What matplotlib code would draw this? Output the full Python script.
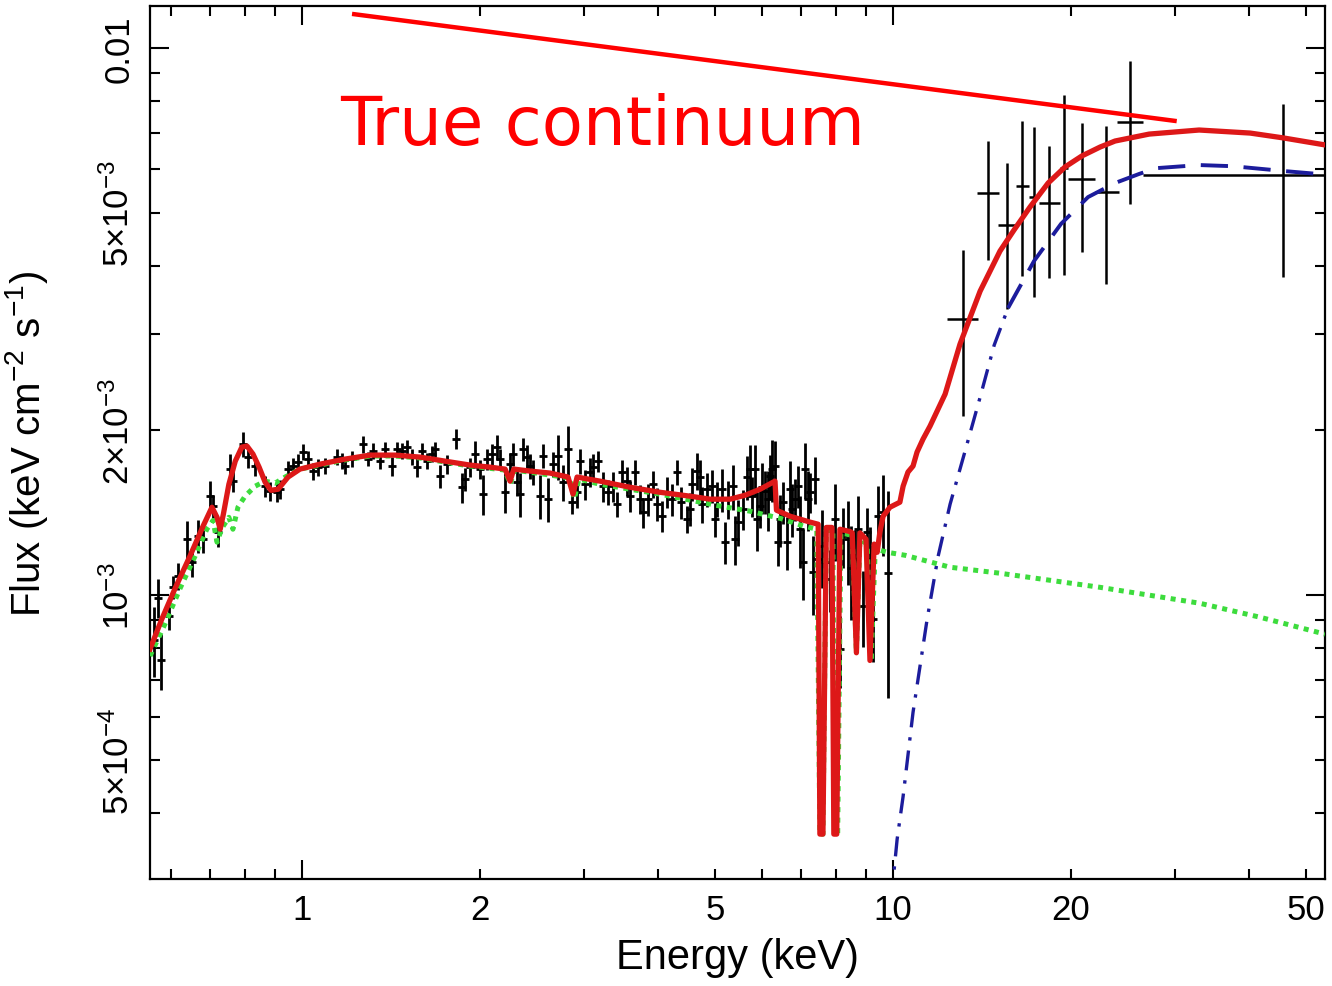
import numpy as np
import matplotlib
matplotlib.use("Agg")
import matplotlib.pyplot as plt
from matplotlib.ticker import FixedLocator, FixedFormatter, FuncFormatter

plt.rcParams["font.family"] = ["Liberation Sans", "DejaVu Sans"]
plt.rcParams["mathtext.fontset"] = "custom"
plt.rcParams["mathtext.rm"] = "Liberation Sans"
plt.rcParams["mathtext.it"] = "Liberation Sans:italic"
plt.rcParams["mathtext.bf"] = "Liberation Sans:bold"

# ---------------- soft X-ray spectrum (flux in 1e-3 keV cm^-2 s^-1) ----------------
soft_E = [0.562, 0.570, 0.578, 0.596, 0.605, 0.617, 0.639, 0.652, 0.667, 0.680,
          0.699, 0.707, 0.721, 0.756, 0.764, 0.795, 0.810, 0.833, 0.866, 0.883,
          0.907, 0.918, 0.947, 0.966, 0.984, 1.004, 1.024, 1.044, 1.064, 1.094,
          1.146, 1.169, 1.182, 1.215, 1.268, 1.293, 1.319, 1.355, 1.382, 1.420,
          1.448, 1.476, 1.505, 1.535, 1.565, 1.596, 1.627, 1.660, 1.679, 1.712,
          1.759, 1.822, 1.865, 1.887, 1.924, 1.962, 2.001, 2.024, 2.056, 2.096,
          2.138, 2.163, 2.206, 2.249, 2.275, 2.311, 2.338, 2.366, 2.403, 2.431,
          2.460, 2.528, 2.558, 2.608, 2.659, 2.712, 2.765, 2.819, 2.863, 2.920,
          2.954, 3.012, 3.071, 3.107, 3.168, 3.230, 3.294, 3.359, 3.412, 3.479,
          3.548, 3.589, 3.660, 3.732, 3.776, 3.850, 3.926, 3.988, 4.066, 4.147,
          4.228, 4.311, 4.379, 4.482, 4.53, 4.571, 4.661, 4.71, 4.753, 4.846,
          4.941, 5.00, 5.038, 5.137, 5.197, 5.258, 5.362, 5.40, 5.467, 5.575,
          5.662, 5.73, 5.773, 5.841, 5.88, 5.957, 6.00, 6.073, 6.14, 6.193,
          6.24, 6.314, 6.389, 6.44, 6.515, 6.617, 6.70, 6.747, 6.826, 6.906,
          6.96, 7.042, 7.097, 7.18, 7.237, 7.321, 7.379, 7.465, 7.58, 7.671,
          7.823, 7.97, 8.134, 8.230, 8.392, 8.50, 8.624, 8.73, 8.898, 9.036,
          9.14, 9.251, 9.432, 9.618, 9.807]
soft_F = [0.83, 0.99, 0.76, 0.915, 1.034, 1.083, 1.266, 1.149, 1.282, 1.266,
          1.517, 1.455, 1.304, 1.700, 1.616, 1.888, 1.788, 1.722, 1.582, 1.549,
          1.542, 1.562, 1.700, 1.722, 1.751, 1.826, 1.773, 1.686, 1.714, 1.722,
          1.788, 1.758, 1.722, 1.773, 1.888, 1.773, 1.834, 1.758, 1.849, 1.722,
          1.849, 1.834, 1.865, 1.788, 1.714, 1.834, 1.758, 1.811, 1.849, 1.651,
          1.736, 1.929, 1.575, 1.630, 1.714, 1.811, 1.700, 1.530, 1.773, 1.811,
          1.865, 1.773, 1.542, 1.736, 1.811, 1.609, 1.530, 1.849, 1.788, 1.722,
          1.679, 1.517, 1.796, 1.498, 1.736, 1.796, 1.609, 1.849, 1.479, 1.542,
          1.758, 1.595, 1.679, 1.714, 1.758, 1.582, 1.542, 1.582, 1.467, 1.679,
          1.616, 1.517, 1.679, 1.498, 1.418, 1.498, 1.595, 1.467, 1.394, 1.542,
          1.498, 1.679, 1.479, 1.377, 1.436, 1.595, 1.686, 1.644, 1.467, 1.562,
          1.582, 1.377, 1.498, 1.562, 1.250, 1.498, 1.582, 1.266, 1.360, 1.436,
          1.644, 1.700, 1.517, 1.700, 1.377, 1.455, 1.575, 1.549, 1.498, 1.651,
          1.700, 1.722, 1.250, 1.377, 1.479, 1.250, 1.562, 1.436, 1.498, 1.582,
          1.320, 1.149, 1.700, 1.498, 1.542, 1.102, 1.630, 1.164, 1.230, 1.149,
          1.070, 1.377, 0.797, 1.282, 1.266, 1.120, 1.164, 1.320, 0.955, 1.304,
          1.164, 0.904, 1.394, 1.418, 1.100]
soft_Ferr = [0.12, 0.08, 0.09, 0.05, 0.05, 0.06, 0.10, 0.07, 0.09, 0.07,
             0.10, 0.07, 0.08, 0.11, 0.07, 0.10, 0.08, 0.07, 0.07, 0.06,
             0.06, 0.06, 0.06, 0.06, 0.06, 0.06, 0.06, 0.06, 0.06, 0.06,
             0.06, 0.06, 0.06, 0.06, 0.07, 0.05, 0.06, 0.06, 0.06, 0.07,
             0.06, 0.06, 0.06, 0.06, 0.07, 0.06, 0.06, 0.06, 0.06, 0.08,
             0.07, 0.08, 0.10, 0.08, 0.07, 0.10, 0.07, 0.13, 0.08, 0.08,
             0.10, 0.08, 0.13, 0.08, 0.09, 0.09, 0.14, 0.09, 0.09, 0.09,
             0.09, 0.14, 0.09, 0.14, 0.09, 0.17, 0.12, 0.19, 0.07, 0.10,
             0.09, 0.10, 0.10, 0.10, 0.08, 0.10, 0.08, 0.10, 0.08, 0.09,
             0.10, 0.10, 0.09, 0.09, 0.09, 0.10, 0.09, 0.10, 0.09, 0.10,
             0.10, 0.09, 0.10, 0.08, 0.10, 0.11, 0.13, 0.12, 0.11, 0.11,
             0.11, 0.10, 0.11, 0.14, 0.11, 0.12, 0.15, 0.13, 0.13, 0.12,
             0.15, 0.18, 0.13, 0.18, 0.17, 0.13, 0.17, 0.14, 0.19, 0.15,
             0.22, 0.19, 0.12, 0.15, 0.13, 0.14, 0.20, 0.16, 0.13, 0.14,
             0.20, 0.17, 0.20, 0.19, 0.13, 0.18, 0.16, 0.13, 0.20, 0.13,
             0.14, 0.22, 0.12, 0.16, 0.22, 0.22, 0.15, 0.20, 0.15, 0.14,
             0.17, 0.15, 0.19, 0.24, 0.45]
soft_bin_frac = 0.016

# ---------------- hard X-ray spectrum ----------------
hard_E = [13.13, 14.48, 15.59, 16.53, 17.32, 18.37, 19.47, 20.88, 22.93, 25.18, 45.7]
hard_Elo = [12.34, 13.87, 15.07, 16.15, 16.99, 17.66, 19.17, 19.78, 21.97, 23.93, 26.49]
hard_Ehi = [13.93, 15.12, 16.15, 16.99, 17.67, 19.17, 19.78, 21.97, 24.12, 26.49, 54.9]
hard_F = [3.20, 5.43, 4.75, 5.59, 5.34, 5.21, 6.03, 5.76, 5.45, 7.32, 5.86]
hard_Ferr = [1.07, 1.33, 1.41, 1.76, 1.83, 1.41, 2.18, 1.53, 1.74, 2.13, 2.04]

# ---------------- total model (red) ----------------
total_E = [0.553, 0.579, 0.610, 0.646, 0.680, 0.704, 0.718, 0.727, 0.736, 0.752,
           0.771, 0.791, 0.807, 0.826, 0.846, 0.866, 0.886, 0.911, 0.947, 0.992,
           1.073, 1.182, 1.304, 1.437, 1.584, 1.745, 1.924, 2.08, 2.206, 2.249,
           2.282, 2.431, 2.627, 2.819, 2.874, 2.92, 3.193, 3.589, 4.034, 4.535,
           4.903, 5.30, 5.62, 5.957, 6.314, 6.35, 6.70, 7.24, 7.47, 7.52,
           7.61, 7.71, 7.88, 7.94, 8.03, 8.13, 8.46, 8.53, 8.67, 8.79,
           9.00, 9.14, 9.29, 9.40, 9.50, 9.62, 9.88, 10.27, 10.40, 10.60,
           10.81, 10.98, 11.24, 11.55, 12.25, 12.98, 14.04, 15.17, 16.02, 17.05,
           18.30, 19.54, 20.88, 22.40, 23.75, 27.12, 32.95, 40.2, 45.7, 53.8]
total_F = [0.797, 0.904, 1.03, 1.178, 1.337, 1.448, 1.388, 1.320, 1.406, 1.595,
           1.758, 1.865, 1.873, 1.811, 1.714, 1.609, 1.555, 1.562, 1.644, 1.700,
           1.736, 1.773, 1.803, 1.803, 1.788, 1.758, 1.729, 1.714, 1.700, 1.616,
           1.700, 1.686, 1.672, 1.644, 1.530, 1.644, 1.616, 1.575, 1.542, 1.517,
           1.498, 1.498, 1.523, 1.562, 1.616, 1.430, 1.394, 1.360, 1.348, 0.366,
           0.366, 1.330, 1.330, 0.366, 0.366, 1.320, 1.307, 1.300, 0.785, 1.300,
           1.266, 0.760, 1.240, 1.198, 1.304, 1.394, 1.448, 1.479, 1.582, 1.679,
           1.722, 1.826, 1.929, 2.037, 2.331, 2.876, 3.595, 4.255, 4.648, 5.12,
           5.665, 6.06, 6.35, 6.59, 6.76, 6.96, 7.08, 6.99, 6.85, 6.65]

# ---------------- absorbed power-law component (green) ----------------
pl_E = [0.553, 0.586, 0.622, 0.659, 0.690, 0.707, 0.718, 0.732, 0.752, 0.764,
        0.779, 0.801, 0.833, 0.866, 0.900, 0.936, 0.992, 1.073, 1.182, 1.304,
        1.437, 1.584, 1.745, 1.924, 2.206, 2.249, 2.29, 2.627, 2.84, 2.89,
        2.94, 3.193, 3.589, 4.034, 4.535, 5.10, 5.73, 6.44, 7.04, 7.43,
        7.52, 7.61, 7.71, 7.91, 7.97, 8.06, 8.16, 8.53, 8.67, 8.79,
        9.04, 9.18, 9.33, 9.78, 10.48, 12.49, 15.16, 22.37, 33.0, 41.7, 53.8]
pl_F = [0.774, 0.885, 1.03, 1.178, 1.320, 1.37, 1.25, 1.326, 1.388, 1.320,
        1.448, 1.517, 1.582, 1.616, 1.602, 1.644, 1.700, 1.729, 1.766, 1.796,
        1.796, 1.781, 1.751, 1.722, 1.693, 1.595, 1.693, 1.658, 1.637, 1.498,
        1.63, 1.595, 1.562, 1.530, 1.492, 1.455, 1.424, 1.382, 1.339, 1.320,
        0.366, 0.366, 1.313, 1.313, 0.366, 0.366, 1.300, 1.286, 0.785, 1.266,
        1.240, 0.757, 1.215, 1.198, 1.183, 1.125, 1.097, 1.034, 0.967, 0.912, 0.849]

# ---------------- hard excess component (blue) ----------------
hump_E = [9.93, 10.16, 10.40, 10.81, 11.42, 11.92, 12.49, 13.24, 14.04, 14.83,
          15.65, 17.32, 19.24, 21.38, 23.75, 26.08, 27.86, 32.95, 37.6, 45.7, 54.9]
hump_F = [0.278, 0.358, 0.429, 0.611, 0.904, 1.178, 1.467, 1.834, 2.301, 2.864,
          3.347, 4.08, 4.77, 5.34, 5.665, 5.885, 6.03, 6.11, 6.08, 5.96, 5.86]

# ---------------- sketched intrinsic continuum ----------------
cont_E = [1.215, 30.2]
cont_F = [11.54, 7.35]

scale = 1e-3

fig = plt.figure(figsize=(13.32, 9.87), dpi=100)
ax = fig.add_axes([0.1126, 0.1084, 0.8821, 0.8845])
ax.set_xscale("log")
ax.set_yscale("log")
ax.set_xlim(0.553, 53.8)
ax.set_ylim(3.03e-4, 1.193e-2)

sE = np.array(soft_E)
ax.errorbar(sE, np.array(soft_F) * scale, yerr=np.array(soft_Ferr) * scale,
            xerr=sE * soft_bin_frac, fmt="none", ecolor="black",
            elinewidth=2.0, capsize=0, zorder=2)

hE = np.array(hard_E)
ax.errorbar(hE, np.array(hard_F) * scale, yerr=np.array(hard_Ferr) * scale,
            xerr=[hE - np.array(hard_Elo), np.array(hard_Ehi) - hE],
            fmt="none", ecolor="black", elinewidth=1.8, capsize=0, zorder=2)

# blue component: dash-dot on the steep rise, long dashes over the plateau
hE_arr = np.array(hump_E)
hF_arr = np.array(hump_F) * scale
ax.plot(hE_arr[:11], hF_arr[:11], color="#1c1c9c", lw=2.4,
        linestyle=(0, (6, 3, 1, 3)), zorder=3)
ax.plot(hE_arr[10:], hF_arr[10:], color="#1c1c9c", lw=2.8,
        linestyle=(0, (7, 4)), zorder=3)
ax.plot(pl_E, np.array(pl_F) * scale, color="#3ddc3d", lw=3.6,
        linestyle=(0, (1, 1.1)), zorder=4)
ax.plot(total_E, np.array(total_F) * scale, color="#dd1818", lw=3.8,
        solid_joinstyle="round", zorder=5)

ax.plot(cont_E, np.array(cont_F) * scale, color="#ff0000", lw=3.2,
        solid_capstyle="butt", zorder=6)
ax.text(1.16, 6.67e-3, "True continuum", color="#ff0000", fontsize=48.5,
        family="DejaVu Sans", ha="left", va="baseline", zorder=6)

# x axis ticks
ax.xaxis.set_major_locator(FixedLocator([1, 10]))
ax.xaxis.set_major_formatter(FixedFormatter(["1", "10"]))
x_minor = [0.6, 0.7, 0.8, 0.9, 2, 3, 4, 5, 6, 7, 8, 9, 20, 30, 40, 50]
x_lab = {2: "2", 5: "5", 20: "20", 50: "50"}
ax.xaxis.set_minor_locator(FixedLocator(x_minor))
ax.xaxis.set_minor_formatter(FuncFormatter(
    lambda v, p: x_lab.get(int(round(v)), "") if v >= 1 else ""))

# y axis ticks
ax.yaxis.set_major_locator(FixedLocator([1e-3, 1e-2]))
ax.yaxis.set_major_formatter(FixedFormatter(["10$^{-3}$", "0.01"]))
y_minor = [4e-4, 5e-4, 6e-4, 7e-4, 8e-4, 9e-4,
           2e-3, 3e-3, 4e-3, 5e-3, 6e-3, 7e-3, 8e-3, 9e-3]
y_lab = {5e-4: "5×10$^{-4}$", 2e-3: "2×10$^{-3}$", 5e-3: "5×10$^{-3}$"}
ax.yaxis.set_minor_locator(FixedLocator(y_minor))


def ylabfmt(v, p):
    for k, s in y_lab.items():
        if abs(v - k) / k < 1e-6:
            return s
    return ""


ax.yaxis.set_minor_formatter(FuncFormatter(ylabfmt))

ax.tick_params(which="both", direction="in", top=True, right=True,
               width=1.5, labelsize=25, colors="black")
ax.tick_params(which="major", length=14)
ax.tick_params(which="minor", length=7.5)
ax.tick_params(axis="x", which="both", pad=10)
ax.tick_params(axis="y", which="both", pad=10)
for lab in ax.get_yticklabels(which="both"):
    lab.set_rotation(90)
    lab.set_va("center")

for sp in ax.spines.values():
    sp.set_linewidth(1.6)

ax.set_xlabel("Energy (keV)", fontsize=30)
ax.set_ylabel("Flux (keV cm$^{-2}$ s$^{-1}$)", fontsize=29)
ax.xaxis.set_label_coords(0.5, -0.066)
ax.yaxis.set_label_coords(-0.085, 0.5)

fig.savefig("out.png", dpi=100)
